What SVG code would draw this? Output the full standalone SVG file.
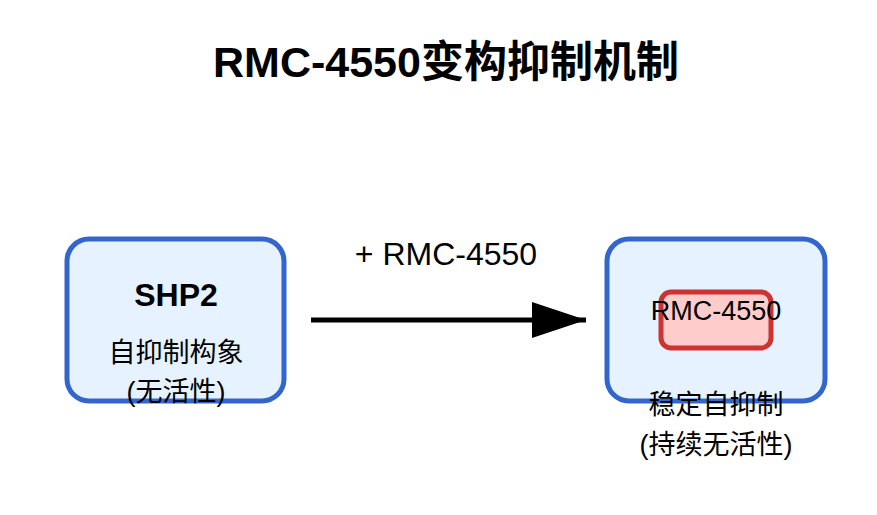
<svg xmlns="http://www.w3.org/2000/svg" width="877" height="515" viewBox="0 0 877 515">
<style>
text{font-family:"Liberation Sans",Arial,"Noto Sans CJK SC",sans-serif;fill:#000;text-anchor:middle}
.box{fill:#e6f2ff;stroke:#3366cc;stroke-width:5}
.drug{fill:#ffcccc;stroke:#cc3333;stroke-width:5}
.t{font-size:27px}
</style>
<defs>
<marker id="ah" markerUnits="userSpaceOnUse" markerWidth="56" markerHeight="38" refX="54" refY="18" orient="auto">
<polygon points="0,0 54,18 0,36" fill="#000"/>
</marker>
</defs>
<rect width="877" height="515" fill="#fff"/>
<text x="446" y="77" font-size="43" font-weight="bold">RMC-4550变构抑制机制</text>
<g id="shp2">
<rect class="box" x="67" y="239" width="217" height="162" rx="22"/>
<text x="176" y="306" font-size="32" font-weight="bold">SHP2</text>
<text class="t" x="176" y="362">自抑制构象</text>
<text class="t" x="176" y="401">(无活性)</text>
</g>
<g id="complex">
<rect class="box" x="607" y="239" width="218" height="162" rx="22"/>
<g id="rmc">
<rect class="drug" x="661" y="292" width="110" height="56" rx="10"/>
<text class="t" x="716" y="320">RMC-4550</text>
</g>
<text class="t" x="716" y="414">稳定自抑制</text>
<text class="t" x="716" y="454">(持续无活性)</text>
</g>
<g id="connectors">
<line x1="311" y1="320" x2="586" y2="320" stroke="#000" stroke-width="5" marker-end="url(#ah)"/>
<text x="446" y="265" font-size="32">+ RMC-4550</text>
</g>
</svg>
